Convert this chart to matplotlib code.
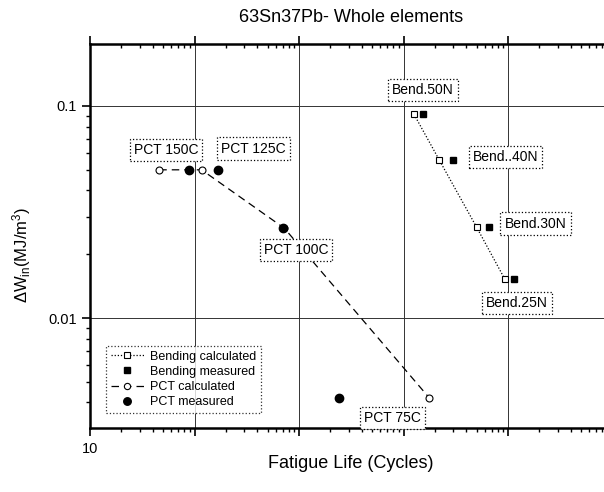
import matplotlib
matplotlib.use("Agg")
import matplotlib.pyplot as plt
from matplotlib.ticker import LogLocator, FuncFormatter, NullFormatter

plt.rcParams['font.family'] = ['Liberation Sans', 'DejaVu Sans']
plt.rcParams['mathtext.default'] = 'regular'

# Data
bend_calc_x = [12600, 22000, 50100, 93600]
bend_calc_y = [0.0914, 0.0556, 0.0268, 0.0152]
bend_meas_x = [15500, 29600, 66200, 114000]
bend_meas_y = [0.0914, 0.0556, 0.0268, 0.0152]
pct_calc_x = [46, 117, 725, 17660]
pct_calc_y = [0.050, 0.050, 0.0265, 0.0042]
pct_meas_x = [88, 169, 705, 2400]
pct_meas_y = [0.050, 0.050, 0.0265, 0.0042]

labels = ["PCT 150C", "PCT 125C", "PCT 100C", "PCT 75C",
          "Bend.50N", "Bend..40N", "Bend.30N", "Bend.25N"]
label_x = [53.4, 367, 936, 7850, 15380, 94700, 183300, 121900]
label_y = [0.0620, 0.0630, 0.0210, 0.00338, 0.1186, 0.0575, 0.0279, 0.01178]

fig = plt.figure(figsize=(6.04, 4.92), dpi=100)
ax = fig.add_axes([90/604, 64/492, 522.5/604, 384/492])
ax.set_xscale('log')
ax.set_yscale('log')
ax.set_xlim(10, 1e6)
ax.set_ylim(0.00303, 0.196)

ax.grid(True, which='major', color='#333333', lw=0.7, ls='-', zorder=0)

ax.plot(bend_calc_x, bend_calc_y, ls=(0, (1, 1.5)), color='black', lw=0.9, marker='s',
        mfc='white', mec='black', ms=5, mew=0.8, label='Bending calculated', zorder=3)
ax.plot(bend_meas_x, bend_meas_y, ls='none', marker='s', color='black', ms=5,
        label='Bending measured', zorder=4)
ax.plot(pct_calc_x, pct_calc_y, ls=(0, (6, 4)), color='black', lw=0.9, marker='o',
        mfc='white', mec='black', ms=5, mew=0.8, label='PCT calculated', zorder=3)
ax.plot(pct_meas_x, pct_meas_y, ls='none', marker='o', color='black', ms=6,
        label='PCT measured', zorder=4)

for t, x, y in zip(labels, label_x, label_y):
    ax.text(x, y, t, ha='center', va='center', fontsize=10, zorder=5,
            bbox=dict(boxstyle='square,pad=0.3', fc='white', ec='black',
                      ls=':', lw=0.9))

leg = ax.legend(loc='lower left', bbox_to_anchor=(16/522.5, 15/384), fontsize=9,
                frameon=True, fancybox=False, handlelength=2.6, borderpad=0.4,
                labelspacing=0.25, handletextpad=0.5, borderaxespad=0,
                markerscale=0.9)
leg.get_frame().set_edgecolor('black')
leg.get_frame().set_linestyle(':')
leg.get_frame().set_linewidth(0.9)
leg.set_zorder(6)

ax.xaxis.set_major_locator(LogLocator(base=10, numticks=10))
ax.xaxis.set_minor_locator(LogLocator(base=10, subs=range(2, 10), numticks=20))
ax.xaxis.set_major_formatter(FuncFormatter(lambda v, p: "10" if abs(v - 10) < 1e-6 else ""))
ax.xaxis.set_minor_formatter(NullFormatter())
ax.yaxis.set_major_locator(LogLocator(base=10, numticks=10))
ax.yaxis.set_minor_locator(LogLocator(base=10, subs=range(2, 10), numticks=20))
ax.yaxis.set_major_formatter(FuncFormatter(lambda v, p: "0.1" if abs(v - 0.1) < 1e-9 else ("0.01" if abs(v - 0.01) < 1e-9 else "")))
ax.yaxis.set_minor_formatter(NullFormatter())

ax.tick_params(axis='both', which='major', direction='out', length=6, width=1.2,
               labelsize=10.5, top=True)
ax.tick_params(axis='both', which='minor', direction='out', length=3, width=1.0, top=True)
ax.tick_params(axis='x', which='both', top=True)
for tk in ax.xaxis.get_major_ticks() + ax.xaxis.get_minor_ticks():
    tk.tick2line.set_marker(3)  # top ticks pointing down (inward)
ax.xaxis.set_tick_params(which='major', pad=4)

for s in ax.spines.values():
    s.set_linewidth(1.8)

ax.set_title("63Sn37Pb- Whole elements", fontsize=13, pad=16)
ax.set_xlabel("Fatigue Life (Cycles)", fontsize=13, labelpad=-1)
ax.set_ylabel(r"$\Delta$W$_{in}$(MJ/m$^{3}$)", fontsize=12)
ax.yaxis.set_label_coords(-0.11, 0.45)

fig.savefig("out.png", dpi=100)
